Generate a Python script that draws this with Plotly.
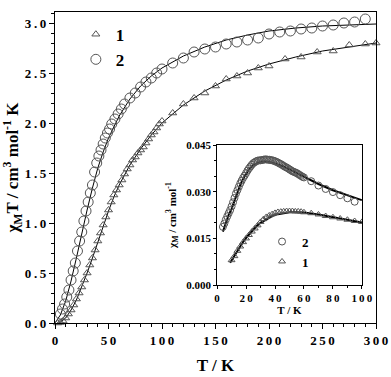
import plotly.graph_objects as go

# main plot: chi_M*T vs T
t1 = [2.5, 5, 7.5, 10, 12.5, 15, 17.5, 20, 22.5, 25, 27.5, 30, 32.5, 35, 37.5, 40,
      42.5, 45, 47.5, 50, 52.5, 55, 57.5, 60, 62.5, 65, 67.5, 70, 72.5, 75, 77.5, 80,
      82.5, 85, 87.5, 90, 92.5, 95, 97.5, 100, 110, 120, 130, 140, 150, 160, 170, 180,
      190, 200, 215, 230, 245, 260, 275, 290, 300]
chit1 = [0.00, 0.005, 0.02, 0.05, 0.09, 0.13, 0.18, 0.24, 0.30, 0.36, 0.43, 0.50, 0.58,
         0.65, 0.73, 0.82, 0.90, 0.98, 1.06, 1.13, 1.21, 1.28, 1.33, 1.38, 1.43, 1.49,
         1.54, 1.58, 1.63, 1.66, 1.70, 1.73, 1.76, 1.80, 1.84, 1.88, 1.91, 1.95, 1.99,
         2.02, 2.10, 2.19, 2.25, 2.30, 2.37, 2.44, 2.47, 2.50, 2.55, 2.57, 2.64, 2.66,
         2.71, 2.72, 2.78, 2.79, 2.80]

t2 = [5, 7, 9, 11, 13, 15, 17, 19, 21, 23, 25, 27, 29, 31, 33, 35, 37, 39, 41, 43, 45,
      47, 49, 51, 53, 56, 59, 62, 65, 70, 75, 80, 85, 90, 95, 100, 110, 120, 130, 140,
      150, 160, 170, 180, 190, 200, 210, 220, 230, 240, 250, 260, 270, 280, 290]
chit2 = [0.09, 0.14, 0.19, 0.26, 0.33, 0.43, 0.52, 0.60, 0.72, 0.82, 0.91, 1.02, 1.12,
         1.21, 1.30, 1.38, 1.51, 1.60, 1.67, 1.73, 1.79, 1.85, 1.90, 1.94, 1.99, 2.04,
         2.09, 2.14, 2.19, 2.25, 2.30, 2.36, 2.41, 2.45, 2.50, 2.54, 2.60, 2.65, 2.71,
         2.74, 2.76, 2.79, 2.81, 2.83, 2.85, 2.89, 2.91, 2.92, 2.94, 2.95, 2.97, 2.98,
         3.00, 3.01, 3.04]

tfit1 = [3, 5, 10, 15, 20, 25, 30, 35, 40, 45, 50, 55, 60, 70, 80, 90, 100, 120, 140,
         160, 180, 200, 225, 250, 275, 300]
fit1 = [0.0, 0.01, 0.05, 0.13, 0.23, 0.36, 0.50, 0.65, 0.81, 0.97, 1.12, 1.26, 1.38,
        1.58, 1.74, 1.88, 2.00, 2.18, 2.32, 2.43, 2.52, 2.59, 2.66, 2.72, 2.76, 2.80]
tfit2 = [0, 5, 10, 15, 20, 25, 30, 35, 40, 45, 50, 60, 70, 80, 90, 100, 120, 140, 160,
         180, 200, 225, 250, 275, 300]
fit2 = [0.0, 0.08, 0.22, 0.42, 0.65, 0.90, 1.13, 1.35, 1.55, 1.71, 1.85, 2.07, 2.24,
        2.37, 2.47, 2.55, 2.67, 2.76, 2.83, 2.88, 2.92, 2.95, 2.97, 2.98, 2.99]

# inset: chi_M vs T
ti1 = [10, 12, 14, 16, 18, 20, 22, 24, 26, 28, 30, 32, 34, 36, 38, 40, 42, 44, 46, 48,
       50, 52, 54, 56, 58, 60, 65, 70, 75, 80, 85, 90, 95, 100]
chi1 = [0.0080, 0.0093, 0.0110, 0.0124, 0.0138, 0.0150, 0.0161, 0.0172, 0.0182, 0.0192,
        0.0203, 0.0212, 0.0219, 0.0224, 0.0228, 0.0232, 0.0235, 0.0236, 0.0237, 0.0238,
        0.0238, 0.0238, 0.0237, 0.0237, 0.0236, 0.0234, 0.0231, 0.0227, 0.0222, 0.0218,
        0.0214, 0.0210, 0.0206, 0.0203]

ti2 = list(range(4, 61)) + [65, 70, 75, 80, 85, 90, 95]
chi2 = [0.0187, 0.0198, 0.0210, 0.0221, 0.0231, 0.0241, 0.0253, 0.0266, 0.0280, 0.0294,
        0.0305, 0.0316, 0.0327, 0.0336, 0.0345, 0.0352, 0.0360, 0.0368, 0.0375, 0.0381,
        0.0387, 0.0392, 0.0395, 0.0398, 0.0400, 0.0401, 0.0401, 0.0402, 0.0403, 0.0404,
        0.0404, 0.0403, 0.0403, 0.0402, 0.0401, 0.0400, 0.0398, 0.0396, 0.0394, 0.0391,
        0.0389, 0.0386, 0.0383, 0.0380, 0.0378, 0.0375, 0.0372, 0.0369, 0.0366, 0.0364,
        0.0362, 0.0360, 0.0357, 0.0354, 0.0351, 0.0348, 0.0346,
        0.0334, 0.0320, 0.0309, 0.0299, 0.0289, 0.0279, 0.0268]

tfi1 = [9, 12, 15, 18, 21, 24, 27, 30, 34, 38, 42, 46, 50, 55, 60, 70, 80, 90, 100]
fi1 = [0.0072, 0.0095, 0.0118, 0.0139, 0.0157, 0.0173, 0.0188, 0.0200, 0.0212, 0.0222,
       0.0228, 0.0232, 0.0234, 0.0234, 0.0233, 0.0227, 0.0219, 0.0210, 0.0201]
tfi2 = [4, 6, 8, 10, 12, 14, 16, 18, 20, 22, 25, 28, 31, 34, 37, 40, 45, 50, 55, 60, 70,
        80, 90, 100]
fi2 = [0.0172, 0.0200, 0.0226, 0.0245, 0.0272, 0.0298, 0.0322, 0.0342, 0.0358, 0.0372,
       0.0386, 0.0393, 0.0397, 0.0397, 0.0395, 0.0391, 0.0383, 0.0372, 0.0360, 0.0348,
       0.0325, 0.0305, 0.0288, 0.0273]

main_xt = [0, 50, 100, 150, 200, 250, 300]
main_yt = [0.0, 0.5, 1.0, 1.5, 2.0, 2.5, 3.0]
ins_xt = [0, 20, 40, 60, 80, 100]
ins_yt = [0.0, 0.015, 0.030, 0.045]

TS = "\u2009"
def spaced(s):
    return TS.join(list(s))

FONT = "Liberation Serif"
grey = "#555555"

fig = go.Figure()

# main plot
fig.add_trace(go.Scatter(x=tfit1, y=fit1, mode="lines", line=dict(color="black", width=1),
                         showlegend=False, hoverinfo="skip"))
fig.add_trace(go.Scatter(x=tfit2, y=fit2, mode="lines", line=dict(color="black", width=1),
                         showlegend=False, hoverinfo="skip"))
fig.add_trace(go.Scatter(x=t1, y=chit1, mode="markers", name="1", legend="legend",
                         marker=dict(symbol="triangle-up-open", size=7, color=grey,
                                     line=dict(width=1)), cliponaxis=False))
fig.add_trace(go.Scatter(x=t2, y=chit2, mode="markers", name="2", legend="legend",
                         marker=dict(symbol="circle-open", size=10, color=grey,
                                     line=dict(width=1)), cliponaxis=False))

# inset
fig.add_trace(go.Scatter(x=tfi1, y=fi1, mode="lines", xaxis="x2", yaxis="y2",
                         line=dict(color="black", width=2), showlegend=False, hoverinfo="skip"))
fig.add_trace(go.Scatter(x=tfi2, y=fi2, mode="lines", xaxis="x2", yaxis="y2",
                         line=dict(color="black", width=2), showlegend=False, hoverinfo="skip"))
fig.add_trace(go.Scatter(x=ti2, y=chi2, mode="markers", name="2", legend="legend2",
                         xaxis="x2", yaxis="y2",
                         marker=dict(symbol="circle-open", size=7, color=grey,
                                     line=dict(width=1))))
fig.add_trace(go.Scatter(x=ti1, y=chi1, mode="markers", name="1", legend="legend2",
                         xaxis="x2", yaxis="y2",
                         marker=dict(symbol="triangle-up-open", size=6, color=grey,
                                     line=dict(width=1))))

axis_common = dict(showgrid=False, zeroline=False, showline=True, linecolor="black",
                   mirror=True, ticks="outside", tickcolor="black", automargin=False)

fig.update_layout(
    width=391, height=377,
    margin=dict(l=55, r=15, t=12, b=54),
    paper_bgcolor="white", plot_bgcolor="white",
    font=dict(family=FONT, color="black", weight="bold"),
    xaxis=dict(**axis_common, domain=[0, 1], range=[0, 300], linewidth=1.3,
               tickvals=main_xt, ticktext=[spaced(str(v)) for v in main_xt],
               ticklen=5, tickwidth=1, tickfont=dict(size=13),
               minor=dict(dtick=10, ticks="outside", ticklen=3, tickcolor="black"),
               title=dict(text="T / K", font=dict(size=17), standoff=12)),
    yaxis=dict(**axis_common, domain=[0, 1], range=[0, 3.11], linewidth=1.3,
               tickvals=main_yt, ticktext=[spaced(f"{v:.1f}") for v in main_yt],
               ticklen=5, tickwidth=1, tickfont=dict(size=13),
               minor=dict(dtick=0.1, ticks="outside", ticklen=3, tickcolor="black"),
               title=dict(text="χ<sub>M</sub>T / cm<sup>3</sup> mol<sup>-1</sup> K",
                          font=dict(size=17), standoff=5)),
    xaxis2=dict(**axis_common, domain=[0.505, 0.956], anchor="y2", range=[0, 100],
                linewidth=1, tickvals=ins_xt, ticktext=[spaced(str(v)) for v in ins_xt],
                ticklen=3, tickwidth=1, tickfont=dict(size=11),
                minor=dict(dtick=10, ticks="outside", ticklen=2, tickcolor="black"),
                title=dict(text="T / K", font=dict(size=11), standoff=2)),
    yaxis2=dict(**axis_common, domain=[0.122, 0.572], anchor="x2", range=[0, 0.045],
                linewidth=1, tickvals=ins_yt, ticktext=[f"{v:.3f}" for v in ins_yt],
                ticklen=3, tickwidth=1, tickfont=dict(size=11),
                minor=dict(dtick=0.005, ticks="outside", ticklen=2, tickcolor="black"),
                title=dict(text="χ<sub>M</sub> / cm<sup>3</sup> mol<sup>-1</sup>",
                           font=dict(size=11), standoff=7)),
    legend=dict(x=0.065, y=0.985, xanchor="left", yanchor="top", bgcolor="rgba(0,0,0,0)",
                font=dict(size=17), tracegroupgap=0, itemwidth=30),
    legend2=dict(x=0.645, y=0.31, xanchor="left", yanchor="top", bgcolor="rgba(0,0,0,0)",
                 font=dict(size=13), tracegroupgap=0, itemwidth=30),
)

# drop the default page margin so the figure sits at the window's corner
fig.write_html("out.html", config={"displayModeBar": False},
               post_script="document.body.style.margin='0';")
